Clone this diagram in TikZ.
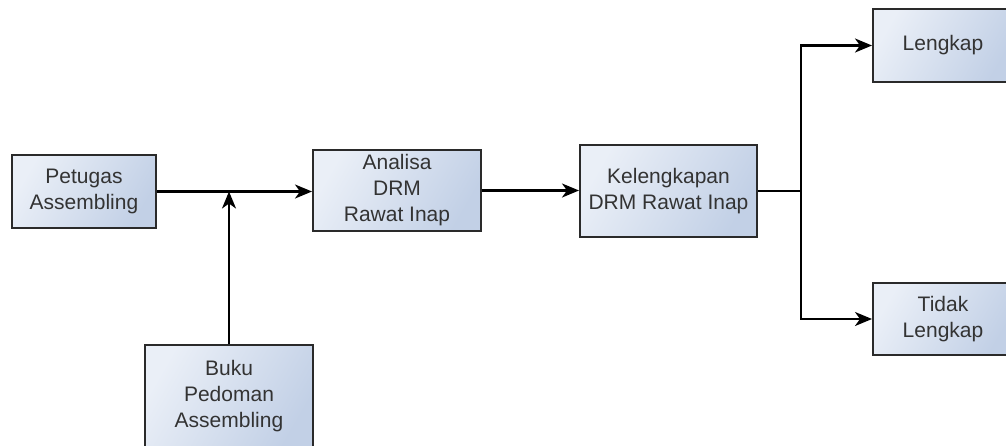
\documentclass[tikz,border=0pt]{standalone}
\usepackage{fontspec}
\setmainfont{Liberation Sans}
\usetikzlibrary{arrows.meta}
\definecolor{boxline}{HTML}{2A2A2A}
\definecolor{txt}{HTML}{333333}
\definecolor{fillA}{HTML}{EAEFF7}
\definecolor{fillB}{HTML}{C2D0E6}
\tikzset{
  blk/.style={draw=boxline, line width=2pt, left color=fillA, right color=fillB, shading angle=60,
    align=center, text=txt, font=\fontsize{21}{26}\selectfont, inner sep=0pt, anchor=center},
  arr/.style={draw=black, line width=2.2pt, -{Stealth[length=17pt,width=14pt,inset=5pt]}},
  ln/.style={draw=black, line width=2.2pt}
}
\begin{document}
\begin{tikzpicture}[x=1pt,y=-1pt]
\useasboundingbox (0,0) rectangle (1006,445);
\clip (0,0) rectangle (1006,445);
\node[blk, minimum width=144pt, minimum height=73pt] (pet) at (84,191.5) {Petugas\\Assembling};
\node[blk, minimum width=168pt, minimum height=81pt] (ana) at (397,190.5) {Analisa\\DRM\\Rawat Inap};
\node[blk, minimum width=177pt, minimum height=92pt] (kel) at (668.5,191) {Kelengkapan\\DRM Rawat Inap};
\node[blk, minimum width=140pt, minimum height=73pt] (len) at (943,45.5) {Lengkap};
\node[blk, minimum width=140pt, minimum height=72pt] (tid) at (943,319) {Tidak\\Lengkap};
\node[blk, minimum width=168pt, minimum height=102pt] (buku) at (229,396) {Buku\\Pedoman\\Assembling};
\coordinate (j) at (801,191);
\draw[arr] (pet.east) -- (pet.east -| ana.west);
\draw[arr] (buku.north) -- (buku.north |- pet.east);
\draw[arr] (ana.east) -- (ana.east -| kel.west);
\draw[ln] (kel.east) -- (j);
\draw[arr] (j) |- (len.west);
\draw[arr] (j) |- (tid.west);
\end{tikzpicture}
\end{document}
